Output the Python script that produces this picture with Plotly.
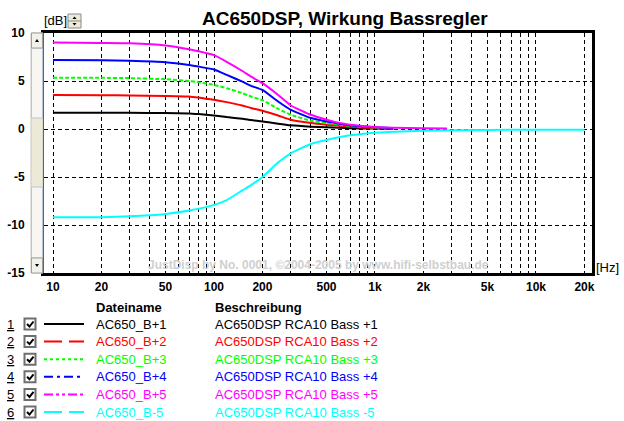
import plotly.graph_objects as go

# ------------------------------------------------------------
# data (dB over Hz)
# ------------------------------------------------------------
freq = [10, 20, 30, 50, 70, 80, 100, 120, 150, 170, 200, 250, 300, 400, 500, 600, 700, 1000, 1300]
b_p1 = [1.70, 1.70, 1.68, 1.66, 1.62, 1.55, 1.41, 1.24, 1.07, 0.93, 0.79, 0.55, 0.38, 0.24, 0.17, 0.12, 0.08, 0.04, 0.02]
b_p2 = [3.54, 3.52, 3.50, 3.44, 3.38, 3.27, 3.04, 2.80, 2.45, 2.18, 1.90, 1.41, 0.96, 0.62, 0.45, 0.33, 0.24, 0.10, 0.05]
b_p3 = [5.35, 5.33, 5.30, 5.18, 5.00, 4.87, 4.60, 4.25, 3.73, 3.38, 3.00, 2.10, 1.48, 0.86, 0.62, 0.45, 0.32, 0.15, 0.08]
b_p4 = [7.19, 7.15, 7.10, 6.95, 6.66, 6.50, 6.20, 5.63, 4.93, 4.50, 4.07, 2.86, 2.00, 1.14, 0.79, 0.55, 0.38, 0.17, 0.08]
freq_p5 = [10, 20, 30, 50, 70, 80, 100, 120, 150, 170, 200, 250, 300, 400, 500, 600, 700, 1000, 1300, 2000, 2800]
b_p5 = [9.00, 8.95, 8.92, 8.70, 8.30, 8.10, 7.70, 7.00, 6.04, 5.45, 4.77, 3.55, 2.45, 1.48, 0.96, 0.62, 0.45, 0.20, 0.12, 0.08, 0.05]
freq_m5 = [10, 20, 30, 50, 70, 100, 120, 150, 170, 200, 250, 300, 400, 500, 700, 1000, 2000, 5000, 10000, 20000]
b_m5 = [-9.20, -9.18, -9.10, -8.85, -8.50, -7.90, -7.40, -6.40, -5.85, -5.00, -3.50, -2.53, -1.56, -1.15, -0.66, -0.38, -0.17, -0.10, -0.08, -0.08]

names = ["AC650_B+1", "AC650_B+2", "AC650_B+3", "AC650_B+4", "AC650_B+5", "AC650_B-5"]
descr = ["AC650DSP RCA10 Bass +1", "AC650DSP RCA10 Bass +2", "AC650DSP RCA10 Bass +3",
         "AC650DSP RCA10 Bass +4", "AC650DSP RCA10 Bass +5", "AC650DSP RCA10 Bass -5"]
colors = ["#000000", "#FF0000", "#00FF00", "#0000FF", "#FF00FF", "#00FFFF"]
legend_dash = ["solid", "18px,7px", "3px,3px", "9px,4px,3px,4px", "9px,3px,3px,3px,3px,3px", "18px,7px"]

grid_x = [10, 20, 30, 40, 50, 60, 70, 80, 90,
          100, 200, 300, 400, 500, 600, 700, 800, 900,
          1000, 2000, 3000, 4000, 5000, 6000, 7000, 8000, 9000,
          10000, 20000]
x_labels = {10: "10", 20: "20", 50: "50", 100: "100", 200: "200", 500: "500",
            1000: "1k", 2000: "2k", 5000: "5k", 10000: "10k", 20000: "20k"}
y_ticks = [10, 5, 0, -5, -10, -15]

FONT = "Liberation Sans, Arial, sans-serif"

# plot area in pixels
L, R, T, B = 44, 592, 33, 273
W, H = R - L, B - T


def px(x):
    return (x - L) / W


def py(y):
    return (B - y) / H


fig = go.Figure()

series = [(freq, b_p1), (freq, b_p2), (freq, b_p3), (freq, b_p4), (freq_p5, b_p5), (freq_m5, b_m5)]
for i, (fx, fy) in enumerate(series):
    fig.add_trace(go.Scatter(
        x=fx, y=fy, mode="lines", name=names[i],
        line=dict(color=colors[i], width=2, dash="4px,2px" if i == 2 else "solid",
                  shape="spline", smoothing=0.4),
        showlegend=False, hoverinfo="skip",
    ))

shapes = []
ann = []

# scrollbar at the left of the y axis
shapes.append(dict(type="rect", xref="paper", yref="paper", x0=px(31), x1=px(43), y0=py(273), y1=py(33),
                   fillcolor="#ECE9D8", line=dict(color="#C8C6BA", width=1), layer="above"))
for y0, y1 in [(48, 118), (187, 258)]:
    shapes.append(dict(type="rect", xref="paper", yref="paper", x0=px(31.5), x1=px(42.5), y0=py(y1), y1=py(y0),
                       fillcolor="#F7F6F1", line=dict(color="#B8C4DC", width=1), layer="above"))
for y0, y1 in [(33, 48), (258, 273)]:
    shapes.append(dict(type="rect", xref="paper", yref="paper", x0=px(31.5), x1=px(42.5), y0=py(y1), y1=py(y0),
                       fillcolor="#F2F1EA", line=dict(color="#A0A0A0", width=1), layer="above"))
shapes.append(dict(type="path", xref="paper", yref="paper", fillcolor="black", line=dict(width=0),
                   path=f"M {px(35)},{py(42)} L {px(39)},{py(42)} L {px(37)},{py(39)} Z"))
shapes.append(dict(type="path", xref="paper", yref="paper", fillcolor="black", line=dict(width=0),
                   path=f"M {px(35)},{py(264)} L {px(39)},{py(264)} L {px(37)},{py(267)} Z"))

# [dB] spinner
shapes.append(dict(type="rect", xref="paper", yref="paper", x0=px(68), x1=px(81), y0=py(28), y1=py(14),
                   fillcolor="#ECE9D8", line=dict(color="#8A8A8A", width=1)))
shapes.append(dict(type="line", xref="paper", yref="paper", x0=px(68), x1=px(81), y0=py(21), y1=py(21),
                   line=dict(color="#8A8A8A", width=1)))
shapes.append(dict(type="path", xref="paper", yref="paper", fillcolor="black", line=dict(width=0),
                   path=f"M {px(72.5)},{py(19)} L {px(76.5)},{py(19)} L {px(74.5)},{py(16.5)} Z"))
shapes.append(dict(type="path", xref="paper", yref="paper", fillcolor="black", line=dict(width=0),
                   path=f"M {px(72.5)},{py(23)} L {px(76.5)},{py(23)} L {px(74.5)},{py(25.5)} Z"))

ann.append(dict(text="[dB]", x=px(42), y=py(21), xanchor="left", yanchor="middle",
                font=dict(size=13, color="black", family=FONT)))
ann.append(dict(text="[Hz]", x=px(594), y=py(267), xanchor="left", yanchor="middle",
                font=dict(size=13, color="black", family=FONT)))
ann.append(dict(text="<b>AC650DSP, Wirkung Bassregler</b>", x=px(345), y=py(18),
                xanchor="center", yanchor="middle", font=dict(size=19, color="black", family=FONT)))
ann.append(dict(text="<b>JustDisp by No. 0001, ©2004-2005 by www.hifi-selbstbau.de</b>",
                x=px(318), y=py(265), xanchor="center", yanchor="middle",
                font=dict(size=12, color="#CFCFCF", family=FONT)))

# legend table below the chart
ann.append(dict(text="<b>Dateiname</b>", x=px(94), y=py(307), xanchor="left", yanchor="middle",
                font=dict(size=13, color="black", family=FONT)))
ann.append(dict(text="<b>Beschreibung</b>", x=px(213), y=py(307), xanchor="left", yanchor="middle",
                font=dict(size=13, color="black", family=FONT)))
for i in range(6):
    yc = 324 + 17.6 * i
    ann.append(dict(text=f"<u>{i + 1}</u>", x=px(10), y=py(yc), xanchor="center", yanchor="middle",
                    font=dict(size=13, color="black", family=FONT)))
    shapes.append(dict(type="rect", xref="paper", yref="paper", x0=px(24.5), x1=px(35.5),
                       y0=py(yc + 5.5), y1=py(yc - 5.5), fillcolor="white",
                       line=dict(color="#6E6E6E", width=2)))
    shapes.append(dict(type="path", xref="paper", yref="paper", line=dict(color="black", width=2),
                       path=f"M {px(27)},{py(yc)} L {px(29.5)},{py(yc + 2.5)} L {px(33.5)},{py(yc - 2.5)}"))
    shapes.append(dict(type="line", xref="paper", yref="paper", x0=px(44), x1=px(84), y0=py(yc), y1=py(yc),
                       line=dict(color=colors[i], width=2, dash=legend_dash[i])))
    ann.append(dict(text=names[i], x=px(94), y=py(yc), xanchor="left", yanchor="middle",
                    font=dict(size=13, color=colors[i], family=FONT)))
    ann.append(dict(text=descr[i], x=px(213), y=py(yc), xanchor="left", yanchor="middle",
                    font=dict(size=13, color=colors[i], family=FONT)))

for a in ann:
    a.update(xref="paper", yref="paper", showarrow=False)

fig.update_xaxes(
    type="log", range=[0.944, 4.348], automargin=False,
    tickvals=grid_x, ticktext=[f"<b>{x_labels[v]}</b>" if v in x_labels else "" for v in grid_x],
    showgrid=True, gridcolor="black", gridwidth=1, griddash="4px,3px",
    ticks="outside", ticklen=1, tickcolor="rgba(0,0,0,0)",
    tickfont=dict(size=12, color="black", family=FONT),
    showline=True, linecolor="black", linewidth=3, mirror=True, zeroline=False,
)
fig.update_yaxes(
    range=[-15, 10], automargin=False, tickvals=y_ticks, ticktext=[f"<b>{v}</b>" for v in y_ticks],
    showgrid=True, gridcolor="black", gridwidth=1, griddash="4px,3px",
    ticks="outside", ticklen=14, tickcolor="rgba(0,0,0,0)",
    tickfont=dict(size=12, color="black", family=FONT),
    showline=True, linecolor="black", linewidth=3, mirror=True, zeroline=False,
)
fig.update_layout(
    width=624, height=421,
    margin=dict(l=L, r=624 - R, t=T, b=421 - B),
    paper_bgcolor="white", plot_bgcolor="white",
    shapes=shapes, annotations=ann,
    showlegend=False,
)

# the page would otherwise carry the browser's default 8px body margin
fig.write_html("out.html", config={"displayModeBar": False},
               post_script="document.body.style.margin='0';document.body.style.overflow='hidden';")
